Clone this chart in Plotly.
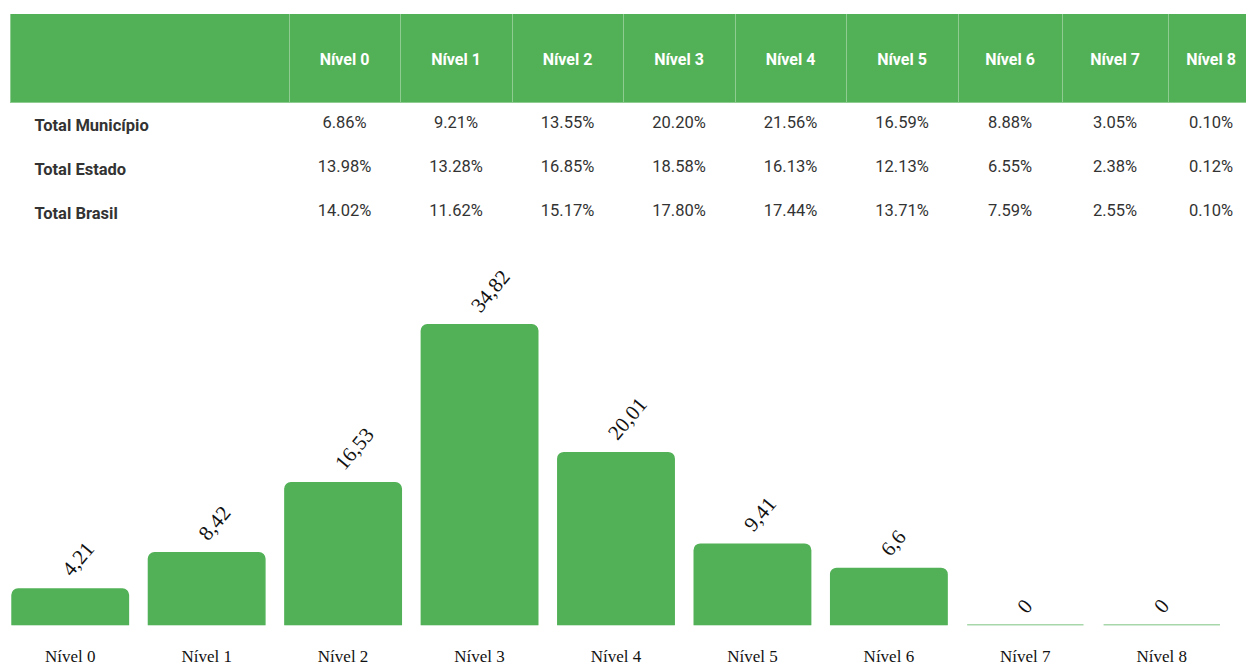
import plotly.graph_objects as go

GREEN = "#52B157"

levels = ["Nível 0", "Nível 1", "Nível 2", "Nível 3", "Nível 4",
          "Nível 5", "Nível 6", "Nível 7", "Nível 8"]
row_labels = ["Total Município", "Total Estado", "Total Brasil"]
municipio = ["6.86%", "9.21%", "13.55%", "20.20%", "21.56%", "16.59%", "8.88%", "3.05%", "0.10%"]
estado = ["13.98%", "13.28%", "16.85%", "18.58%", "16.13%", "12.13%", "6.55%", "2.38%", "0.12%"]
brasil = ["14.02%", "11.62%", "15.17%", "17.80%", "17.44%", "13.71%", "7.59%", "2.55%", "0.10%"]

bar_values = [4.21, 8.42, 16.53, 34.82, 20.01, 9.41, 6.6, 0, 0]
bar_text = [f"{v:g}".replace(".", ",") for v in bar_values]

# page body has an 8px margin, so the figure starts at (8, 8) in the window
W, H = 1246, 658
col_widths = [279, 111, 112, 111, 112, 111, 112, 104, 106, 86]

value_cols = [[m, e, b] for m, e, b in zip(municipio, estado, brasil)]

fig = go.Figure()

# header row (bigger base font only to push the label line down)
fig.add_trace(go.Table(
    domain=dict(x=[2 / W, 1], y=[1 - 96 / H, 1 - 6 / H]),
    columnwidth=col_widths,
    header=dict(
        values=[""] + [f"\u00a0<br><span style='font-size:16px'><b>{l}</b></span>" for l in levels],
        fill_color=GREEN,
        line=dict(color="rgba(255,255,255,0.35)", width=1),
        align="center",
        font=dict(family="Roboto", size=19.5, color="white"),
        height=89,
    ),
    cells=dict(values=[[]] * 10, height=1),
))

# body rows
fig.add_trace(go.Table(
    domain=dict(x=[2 / W, 1], y=[1 - 240 / H, 1 - 100 / H]),
    columnwidth=col_widths,
    header=dict(values=[""] * 10, height=1, fill_color="white",
                line=dict(color="white", width=0), font=dict(size=1)),
    cells=dict(
        values=[["\u00a0\u00a0\u00a0\u00a0<b>" + r + "</b>" for r in row_labels]] + value_cols,
        fill_color="white",
        line=dict(color="white", width=1),
        align=["left"] + ["center"] * 9,
        font=dict(family="Roboto", size=16.5, color="#333333"),
        height=44,
    ),
))

fig.add_trace(go.Bar(
    x=levels,
    y=bar_values,
    marker=dict(color=GREEN, cornerradius=6, line=dict(color=GREEN, width=1.5)),
    width=0.853,
    hoverinfo="skip",
))

# rotated value labels, anchored at their lower-left corner above each bar
for lvl, v, t in zip(levels, bar_values, bar_text):
    fig.add_annotation(
        x=lvl, y=v, text=t, textangle=-50,
        xanchor="left", yanchor="bottom", xshift=-16, yshift=5,
        showarrow=False,
        font=dict(family="Liberation Serif", size=21, color="#111111"),
    )

fig.update_layout(
    width=W,
    height=H,
    margin=dict(l=0, r=0, t=0, b=0),
    paper_bgcolor="white",
    plot_bgcolor="white",
    showlegend=False,
    xaxis=dict(
        domain=[0, 1222 / W],
        range=[-0.456, 8.5],
        showgrid=False,
        zeroline=False,
        showline=False,
        ticks="outside",
        ticklen=15,
        tickcolor="rgba(0,0,0,0)",
        tickfont=dict(family="Liberation Serif", size=17, color="#111111"),
    ),
    yaxis=dict(
        domain=[34 / H, 1 - 275 / H],
        range=[0, 40],
        visible=False,
    ),
)

fig.write_html("out.html")
